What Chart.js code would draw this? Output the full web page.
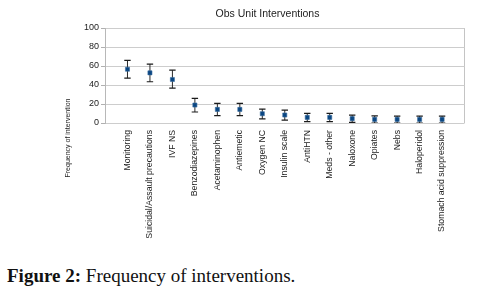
<!DOCTYPE html>
<html>
<head>
<meta charset="utf-8">
<script src="https://cdn.jsdelivr.net/npm/chart.js@4/dist/chart.umd.min.js"></script>
<style>
  html, body { margin: 0; padding: 0; background: #fff; width: 482px; height: 293px; overflow: hidden; }
  #wrap { position: absolute; left: 58px; top: 0; width: 424px; height: 243px; }
  #caption { position: absolute; left: 7px; top: 265px; font-family: "Liberation Serif", "DejaVu Serif", serif; font-size: 19px; line-height: 22px; color: #111; white-space: nowrap; }
</style>
</head>
<body>
<div id="wrap"><canvas id="c" width="424" height="243"></canvas></div>
<div id="caption"><b>Figure 2:</b> Frequency of interventions.</div>
<script>
const categories = ["Monitoring", "Suicidal/Assault precautions", "IVF NS", "Benzodiazepines", "Acetaminophen", "Antiemetic", "Oxygen NC", "Insulin scale", "AntiHTN", "Meds - other", "Naloxone", "Opiates", "Nebs", "Haloperidol", "Stomach acid suppression"];
const means = [56.6, 52.8, 45.8, 18.9, 14.3, 14.3, 9.8, 8.4, 5.9, 5.9, 4.6, 3.8, 3.8, 3.8, 3.8];
const upper = [66.0, 62.0, 55.6, 25.9, 20.6, 20.6, 14.7, 13.6, 10.1, 10.1, 8.3, 7.4, 7.3, 7.3, 7.3];
const lower = [47.2, 43.4, 36.7, 11.6, 7.8, 7.8, 4.3, 3.1, 1.4, 1.4, 0.6, 0.0, 0.0, 0.0, 0.0];
const yTicks = [0, 20, 40, 60, 80, 100];
const chartTitle = "Obs Unit Interventions";
const yTitle = "Frequency of intervention";

const errorSets = categories.map((c, i) => ({
  type: 'scatter',
  label: c + ' range',
  data: [{x: i, y: lower[i]}, {x: i, y: upper[i]}],
  showLine: true,
  borderColor: '#2a2a2a',
  borderWidth: 1,
  pointStyle: 'line',
  pointRadius: 3.2,
  pointBorderColor: '#1a1a1a',
  pointBorderWidth: 1.2,
  order: 2
}));

const meanSet = {
  type: 'scatter',
  label: 'Mean',
  data: means.map((v, i) => ({x: i, y: v})),
  pointStyle: 'rect',
  pointRadius: 2.9,
  backgroundColor: '#0a4682',
  borderColor: '#3a6da0',
  borderWidth: 0.6,
  order: 1
};

const yTitlePlugin = {
  id: 'yTitle',
  afterDraw(chart) {
    const ctx = chart.ctx;
    const a = chart.chartArea;
    ctx.save();
    ctx.fillStyle = '#222';
    ctx.font = '7px "Liberation Sans", Arial, sans-serif';
    ctx.textAlign = 'center';
    ctx.textBaseline = 'middle';
    ctx.translate(10, a.top + 110);
    ctx.rotate(-Math.PI / 2);
    ctx.fillText(yTitle, 0, 0);
    ctx.restore();
  }
};

new Chart(document.getElementById('c'), {
  type: 'scatter',
  data: { datasets: [meanSet, ...errorSets] },
  plugins: [yTitlePlugin],
  options: {
    responsive: false,
    animation: false,
    events: [],
    layout: { padding: { right: 5, left: 0, top: 0, bottom: 0 } },
    plugins: {
      legend: { display: false },
      tooltip: { enabled: false },
      title: {
        display: true,
        text: chartTitle,
        color: '#222',
        font: { family: '"Liberation Sans", Arial, sans-serif', size: 10.5, weight: 'normal' },
        padding: { top: 8, bottom: 7.4 }
      }
    },
    scales: {
      x: {
        type: 'linear',
        min: -1.0,
        max: 15,
        offset: false,
        afterBuildTicks(scale) {
          scale.ticks = categories.map((c, i) => ({ value: i })).concat([{ value: 15 }]);
        },
        afterFit(scale) { scale.height = 120; },
        grid: {
          display: true,
          drawTicks: false,
          color: (ctx) => (ctx.tick && ctx.tick.value === 15) ? '#c4c4c4' : 'rgba(0,0,0,0)'
        },
        border: { display: false },
        ticks: {
          autoSkip: false,
          minRotation: 90,
          maxRotation: 90,
          padding: 7,
          color: '#222',
          font: { family: '"Liberation Sans", Arial, sans-serif', size: 8.7 },
          callback: (v) => (categories[v] !== undefined ? categories[v] : '')
        }
      },
      y: {
        min: 0,
        max: 100,
        afterFit(scale) { scale.width = 47; },
        afterBuildTicks(scale) {
          const t = [];
          for (let v = 0; v <= 100; v += 10) t.push({ value: v });
          scale.ticks = t;
        },
        grid: {
          color: (ctx) => (ctx.tick && ctx.tick.value % 20 === 10) ? '#a3a3a3' : '#cdcdcd',
          tickLength: 4,
          tickColor: '#b0b0b0'
        },
        border: { display: true, color: '#b8b8b8' },
        ticks: {
          padding: 2,
          color: '#222',
          font: { family: '"Liberation Sans", Arial, sans-serif', size: 9 },
          callback: (v) => (yTicks.includes(v) ? String(v) : '')
        }
      }
    }
  }
});
</script>
</body>
</html>
